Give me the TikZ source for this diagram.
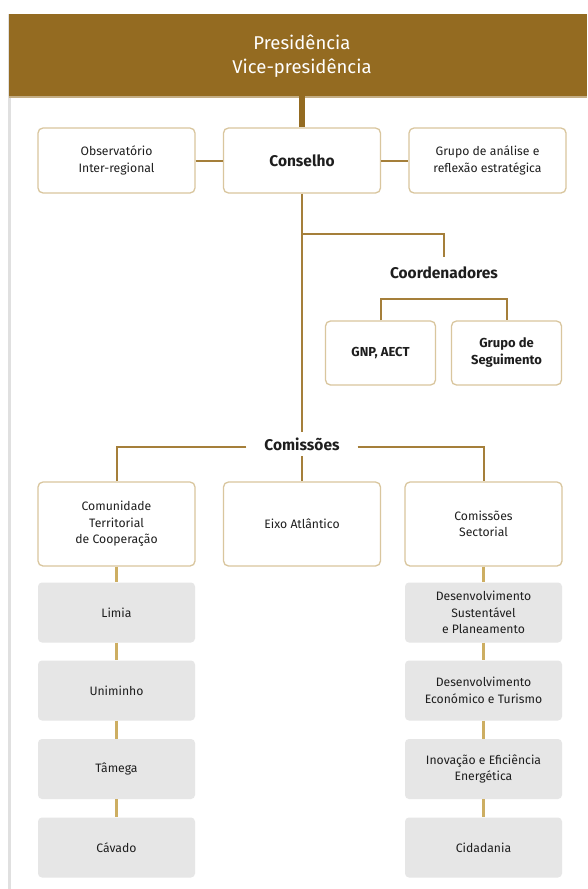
\documentclass[tikz,border=0pt]{standalone}
\usepackage{fontspec}
\setmainfont{Fira Sans}
\usetikzlibrary{calc}
\definecolor{hdrbrown}{HTML}{946B21}
\definecolor{linebrown}{HTML}{A57F3A}
\definecolor{lightgold}{HTML}{CDAE62}
\definecolor{boxedge}{HTML}{D9C69E}
\definecolor{graybox}{HTML}{E6E6E6}
\definecolor{txt}{HTML}{1E1E1E}
\tikzset{
  obox/.style={draw=boxedge, line width=1.3pt, fill=white, rounded corners=5pt,
    minimum width=157pt, minimum height=65pt, align=center, text=txt,
    font=\fontsize{12.2}{16.5}\selectfont, inner sep=2pt},
  gbox/.style={fill=graybox, rounded corners=4pt, minimum width=157pt, minimum height=60pt,
    align=center, text=txt, font=\fontsize{12.2}{16.5}\selectfont, inner sep=2pt},
  cbox/.style={obox, minimum width=110pt, minimum height=64pt, font=\bfseries\fontsize{13}{17}\selectfont},
  conn/.style={draw=linebrown, line width=2pt},
  subconn/.style={draw=lightgold, line width=2.2pt},
  lbl/.style={text=txt, font=\bfseries\fontsize{15.5}{18}\selectfont},
}
\begin{document}
\begin{tikzpicture}[x=1pt,y=-1pt]
\useasboundingbox (0,0) rectangle (587,889);
\fill[white] (0,0) rectangle (587,889);
% left gray rule
\fill[black!12] (8,14) rectangle (10.5,889);
% header band
\node[fill=hdrbrown, minimum width=578pt, minimum height=82pt, inner sep=0pt, anchor=north west] (hdr) at (9,14) {};
\fill[hdrbrown!55!white] (hdr.south west) rectangle ($(hdr.south east)+(0,1.2)$);
\node[text=white, align=center, font=\fontsize{18.5}{24.5}\selectfont] (hdrtext) at (302,56) {Presidência\\Vice-presidência};

% first row
\node[obox] (cons) at (302,160.5) {\bfseries\fontsize{15.5}{18}\selectfont Conselho};
\node[obox] (obs) at (116.5,160.5) {Observatório\\Inter-regional};
\node[obox] (grp) at (487.5,160.5) {Grupo de análise e\\reflexão estratégica};
\draw[draw=hdrbrown, line width=6.5pt] (hdr.south -| cons.north) -- (cons.north);
\draw[conn] (obs.east) -- (cons.west);
\draw[conn] (cons.east) -- (grp.west);

% coordinators
\node[lbl, inner sep=0pt, minimum height=32pt] (coord) at (444,273) {Coordenadores};
\coordinate (br) at (302,234);
\draw[conn] (br) -| (coord.north);
\node[cbox] (gnp) at (380.5,353) {GNP, AECT};
\node[cbox] (seg) at (506.5,353) {Grupo de\\Seguimento};
\coordinate (cj) at (444,299);
\draw[conn] (gnp.north) |- (cj) -| (seg.north);

% comissoes
\node[lbl, inner xsep=18pt, inner ysep=0pt, minimum height=24pt] (com) at (302,444) {Comissões};
\draw[conn] (cons.south) -- (com.north);
\node[obox, minimum height=84pt] (ctc) at (116.5,524) {Comunidade\\Territorial\\de Cooperação};
\node[obox, minimum height=84pt] (eixo) at (302,524) {Eixo Atlântico};
\node[obox, minimum height=84pt] (cs) at (483.5,524) {Comissões\\Sectorial};
\draw[conn] ($(com.west)+(0,3)$) -| (ctc.north);
\draw[conn] ($(com.east)+(0,3)$) -| (cs.north);
\draw[conn] (com.south) -- (eixo.north);

% left sub column
\node[gbox] (limia) at (116.5,612.5) {Limia};
\node[gbox] (unim) at (116.5,690.5) {Uniminho};
\node[gbox] (tam) at (116.5,769) {Tâmega};
\node[gbox] (cav) at (116.5,847.5) {Cávado};
\draw[subconn] (ctc.south) -- (limia.north);
\draw[subconn] (limia.south) -- (unim.north);
\draw[subconn] (unim.south) -- (tam.north);
\draw[subconn] (tam.south) -- (cav.north);

% right sub column
\node[gbox] (dsp) at (483.5,612.5) {Desenvolvimento\\Sustentável\\e Planeamento};
\node[gbox] (det) at (483.5,690.5) {Desenvolvimento\\Económico e Turismo};
\node[gbox] (iee) at (483.5,769) {Inovação e Eficiência\\Energética};
\node[gbox] (cid) at (483.5,847.5) {Cidadania};
\draw[subconn] (cs.south) -- (dsp.north);
\draw[subconn] (dsp.south) -- (det.north);
\draw[subconn] (det.south) -- (iee.north);
\draw[subconn] (iee.south) -- (cid.north);
\end{tikzpicture}
\end{document}
